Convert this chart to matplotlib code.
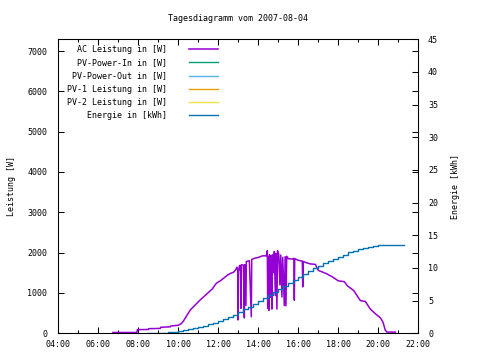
import matplotlib
import matplotlib.pyplot as plt
from matplotlib.ticker import FixedLocator, FuncFormatter, MultipleLocator

matplotlib.use("Agg")

# time in hours of the day
ac_time = [
    6.73, 7.93, 7.95, 8.50, 8.52, 9.10, 9.12, 9.60, 9.62, 10.00, 10.15, 10.25,
    10.35, 10.50, 10.60, 10.80, 11.00, 11.10, 11.30, 11.50, 11.70, 11.90, 12.10,
    12.30, 12.45, 12.60, 12.75, 12.85, 12.93, 12.97, 12.98, 13.00, 13.06, 13.10,
    13.13, 13.15, 13.25, 13.28, 13.30, 13.32, 13.38, 13.40, 13.55, 13.65, 13.67,
    13.80, 14.00, 14.20, 14.40, 14.45, 14.47, 14.50, 14.53, 14.56, 14.60, 14.63,
    14.68, 14.70, 14.77, 14.80, 14.85, 14.88, 14.93, 14.96, 15.02, 15.08, 15.12,
    15.18, 15.22, 15.30, 15.34, 15.38, 15.42, 15.50, 15.70, 15.78, 15.80, 15.82,
    16.00, 16.20, 16.22, 16.25, 16.40, 16.60, 16.85, 17.00, 17.20, 17.40, 17.70,
    18.00, 18.30, 18.45, 18.77, 19.10, 19.35, 19.60, 19.85, 20.10, 20.23, 20.35,
    20.43, 20.85,
]
ac_power = [
    20, 20, 90, 95, 115, 120, 150, 160, 180, 200, 240, 300,
    380, 500, 580, 680, 780, 830, 920, 1010, 1100, 1240, 1300,
    1380, 1440, 1485, 1510, 1560, 1640, 1560, 330, 1520, 1680, 1660,
    620, 1700, 1690, 1010, 380, 1700, 690, 1780, 1800, 410, 1830,
    1860, 1880, 1920, 1920, 2050, 620, 1900, 570, 1950, 890, 1920,
    600, 1950, 1500, 2030, 935, 1980, 600, 2050, 1960, 1200, 1940,
    900, 1880, 690, 1900, 680, 1910, 1850, 1840, 1860, 820, 1850,
    1810, 1790, 1150, 1780, 1750, 1720, 1710, 1560, 1520, 1480, 1400,
    1300, 1280, 1180, 1060, 810, 790, 600, 485, 385, 280, 75,
    30, 30,
]

energy_time = [
    8.50, 8.75, 9.00, 9.25, 9.50, 9.75, 10.00, 10.25, 10.50, 10.75, 11.00,
    11.25, 11.50, 11.75, 12.00, 12.25, 12.50, 12.75, 13.00, 13.25, 13.50,
    13.75, 14.00, 14.25, 14.50, 14.75, 15.00, 15.25, 15.50, 15.75, 16.00,
    16.25, 16.50, 16.75, 17.00, 17.25, 17.50, 17.75, 18.00, 18.25, 18.50,
    18.75, 19.00, 19.25, 19.50, 19.75, 20.00, 21.28,
]
energy_kwh = [
    0.0, 0.02, 0.05, 0.1, 0.15, 0.25, 0.35, 0.5, 0.65, 0.8, 0.95,
    1.15, 1.4, 1.65, 1.9, 2.2, 2.5, 2.85, 3.25, 3.65, 4.05,
    4.5, 4.95, 5.4, 5.85, 6.3, 6.8, 7.25, 7.7, 8.15, 8.6,
    9.05, 9.5, 9.95, 10.35, 10.7, 11.05, 11.4, 11.75, 12.05, 12.45,
    12.6, 12.85, 13.05, 13.25, 13.4, 13.5, 13.5,
]

# series present in the legend but without data on this day
pv_in_time, pv_in_power = [], []
pv_out_time, pv_out_power = [], []
pv1_time, pv1_power = [], []
pv2_time, pv2_power = [], []

FONT = "DejaVu Sans Mono"
FS = 6

fig = plt.figure(figsize=(4.8, 3.6), dpi=100)
ax = fig.add_axes([0.1215, 0.0742, 0.75, 0.8166])
ax2 = ax.twinx()

ax.plot(ac_time, ac_power, color="#9400D3", lw=1.1, label="AC Leistung in [W]")
ax.plot(pv_in_time, pv_in_power, color="#009E73", lw=1.0, label="PV-Power-In in [W]")
ax.plot(pv_out_time, pv_out_power, color="#56B4E9", lw=1.0, label="PV-Power-Out in [W]")
ax.plot(pv1_time, pv1_power, color="#E69F00", lw=1.0, label="PV-1 Leistung in [W]")
ax.plot(pv2_time, pv2_power, color="#F0E442", lw=1.0, label="PV-2 Leistung in [W]")
ax2.plot(energy_time, energy_kwh, color="#0072B2", lw=1.0, drawstyle="steps-post",
         label="Energie in [kWh]")

ax.set_xlim(4, 22)
ax.set_ylim(0, 7290)
ax2.set_ylim(0, 45)

ax.xaxis.set_major_locator(MultipleLocator(2))
ax.xaxis.set_minor_locator(MultipleLocator(1))
ax.xaxis.set_major_formatter(FuncFormatter(lambda v, p: f"{int(v):02d}:00"))
ax.yaxis.set_major_locator(FixedLocator(range(0, 8000, 1000)))
ax2.yaxis.set_major_locator(MultipleLocator(5))

ax.tick_params(which="both", direction="in", top=True, right=True, labelsize=FS,
               width=0.75)
ax.tick_params(which="major", length=4)
ax.tick_params(which="minor", length=2)
ax.tick_params(axis="y", pad=8)
ax.tick_params(axis="x", pad=5)
ax2.tick_params(direction="in", length=4, width=0.75, labelsize=FS, pad=7)

for a in (ax, ax2):
    for lab in a.get_xticklabels() + a.get_yticklabels():
        lab.set_family(FONT)
    for sp in a.spines.values():
        sp.set_linewidth(0.75)

ax.set_ylabel("Leistung [W]", family=FONT, fontsize=FS, labelpad=8)
ax2.set_ylabel("Energie [kWh]", family=FONT, fontsize=FS, labelpad=9)
ax.set_title("Tagesdiagramm vom 2007-08-04", family=FONT, fontsize=FS, pad=13)

handles = ax.get_lines() + ax2.get_lines()
leg = ax2.legend(handles, [h.get_label() for h in handles], loc="upper right",
                 bbox_to_anchor=(0.443, 0.98), frameon=False, markerfirst=False,
                 prop={"family": FONT, "size": FS}, handlelength=3.4,
                 handletextpad=2.7, labelspacing=0.5, borderpad=0, borderaxespad=0)
for col in leg._legend_box.get_children()[1].get_children():
    col.align = "right"

fig.savefig("out.png", dpi=100)
